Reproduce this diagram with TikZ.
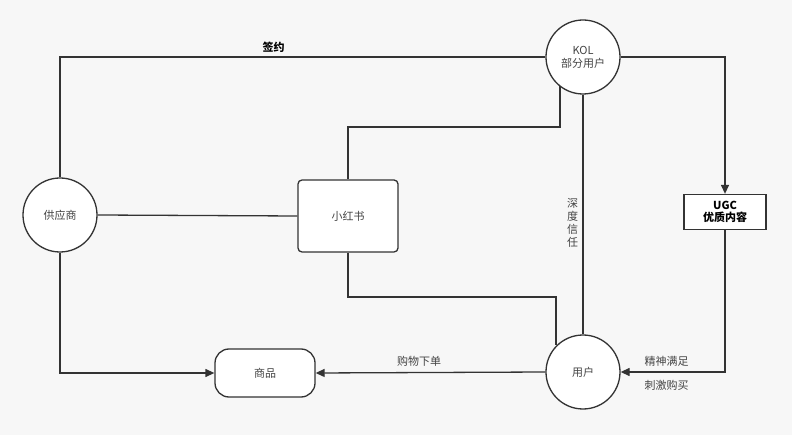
\documentclass[tikz,border=0pt]{standalone}
\usepackage{fontspec}
\setmainfont{Noto Sans CJK SC}
\usetikzlibrary{arrows.meta}
\definecolor{linegray}{HTML}{333333}
\definecolor{textgray}{HTML}{444444}
\tikzset{
  round/.style={circle,draw=linegray,line width=1.3pt,fill=white,minimum size=74pt,inner sep=0pt,font=\fontsize{11}{13}\selectfont,text=textgray,align=center},
  card/.style={rectangle,rounded corners=4pt,draw=linegray,line width=1.3pt,fill=white,minimum width=100pt,font=\fontsize{11}{13}\selectfont,text=textgray},
  wire/.style={draw=linegray,line width=1.3pt},
  tip/.style={wire,-{Triangle[length=9pt,width=8pt]}},
  lbl/.style={font=\fontsize{11}{13}\selectfont,text=textgray}
}
\begin{document}
\begin{tikzpicture}[x=1pt,y=-1pt]

% Rahmen
\fill[white!97!black] (0,0) rectangle (792,435);
\useasboundingbox (0,0) rectangle (792,435);

% Knoten
\node[round] (KOL) at (583,57) {KOL\\部分用户};
\node[round] (Supplier) at (60,215) {供应商};
\node[round] (User) at (583,372) {用户};
\node[card,minimum height=72pt] (XHS) at (348,216) {小红书};
\node[card,minimum height=48pt,rounded corners=14pt] (Goods) at (265,373) {商品};
\node[rectangle,draw=linegray,line width=1.3pt,fill=white,minimum width=82pt,minimum height=35pt,inner sep=1pt,align=center,font=\bfseries\fontsize{11}{12}\selectfont,text=black] (UGC) at (725,212) {UGC\\优质内容};
\coordinate (kolfoot) at (560,86);
\coordinate (userhead) at (556,345);

% Striche
\draw[wire] (Supplier.north) |- (KOL.west) node[pos=0.72,above,font=\bfseries\fontsize{11}{13}\selectfont,text=black] {签约};
\draw[tip] (KOL.east) -| (UGC.north);
\draw[tip] (UGC.south) |- (User.east) node[lbl,pos=0.78,above=2pt] {精神满足} node[lbl,pos=0.78,below=4pt] {刺激购买};
\draw[wire] (KOL.south) -- (User.north) node[lbl,midway,left=1pt,align=center,yshift=-8pt] {深\\度\\信\\任};
\draw[wire] (kolfoot) |- (348,127) -- (XHS.north);
\draw[wire] (XHS.south) |- (556,297) -- (userhead);
\draw[wire] (Supplier.east) -- (XHS.west);
\draw[tip] (Supplier.south) |- (Goods.west);
\draw[tip] (User.west) -- (Goods.east) node[lbl,pos=0.55,above=2pt] {购物下单};

\end{tikzpicture}
\end{document}
